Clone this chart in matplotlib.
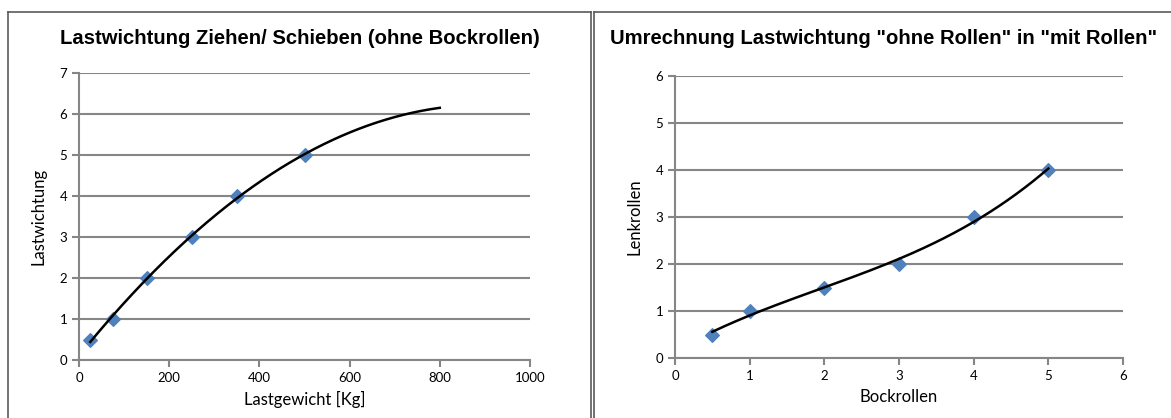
import numpy as np
import matplotlib
matplotlib.use("Agg")
import matplotlib.pyplot as plt
from matplotlib.lines import Line2D

# ---- data ----
left_x = [25, 75, 150, 250, 350, 500]
left_y = [0.5, 1, 2, 3, 4, 5]
left_trend_end = 800
right_x = [0.5, 1, 2, 3, 4, 5]
right_y = [0.5, 1, 1.5, 2, 3, 4]

left_title = "Lastwichtung Ziehen/ Schieben (ohne Bockrollen)"
right_title = 'Umrechnung Lastwichtung "ohne Rollen" in "mit Rollen"'

W, H = 1171, 418
fig = plt.figure(figsize=(W / 100, H / 100), dpi=100)
fig.patch.set_facecolor("white")

TICK_FONT = "Lato"
TITLE_FONT = "Liberation Sans"
GRID = "#868686"
MARK = "#4F81BD"

def px(x0, y0, x1, y1):
    return [x0 / W, 1 - y1 / H, (x1 - x0) / W, (y1 - y0) / H]

# panel borders
border = "#5a5a5a"
fig.add_artist(Line2D([8 / W, 8 / W], [1 - 12 / H, 0], color=border, lw=1.2))
fig.add_artist(Line2D([8 / W, 591 / W], [1 - 12 / H, 1 - 12 / H], color=border, lw=1.2))
fig.add_artist(Line2D([591 / W, 591 / W], [1 - 12 / H, 0], color=border, lw=1.2))
fig.add_artist(Line2D([594 / W, 594 / W], [1 - 12 / H, 0], color=border, lw=1.2))
fig.add_artist(Line2D([594 / W, 1], [1 - 12 / H, 1 - 12 / H], color=border, lw=1.2))


def style(ax, xmax, xstep, ymax):
    ax.set_xlim(0, xmax)
    ax.set_ylim(0, ymax)
    ax.set_xticks(np.arange(0, xmax + xstep / 2, xstep))
    ax.set_yticks(np.arange(0, ymax + 0.5, 1))
    ax.grid(axis="y", color=GRID, lw=1.5)
    ax.set_axisbelow(True)
    for s in ["top", "right"]:
        ax.spines[s].set_visible(False)
    for s in ["left", "bottom"]:
        ax.spines[s].set_color(GRID)
        ax.spines[s].set_linewidth(1.5)
    ax.tick_params(axis="both", colors=GRID, length=5, width=1.5, labelcolor="black",
                   labelsize=9.5)
    ax.tick_params(axis="x", pad=4)
    for lab in ax.get_xticklabels() + ax.get_yticklabels():
        lab.set_family(TICK_FONT)


# left chart
ax1 = fig.add_axes(px(79, 73, 530, 360))
style(ax1, 1000, 200, 7)
c1 = np.polyfit(left_x, left_y, 2)
xs = np.linspace(left_x[0], left_trend_end, 200)
ax1.plot(xs, np.polyval(c1, xs), color="black", lw=1.8, zorder=4)
ax1.scatter(left_x, left_y, marker="D", s=48, color=MARK, zorder=3, clip_on=False)
ax1.set_xlabel("Lastgewicht [Kg]", family=TICK_FONT, fontsize=12, labelpad=5)
ax1.set_ylabel("Lastwichtung", family=TICK_FONT, fontsize=12, labelpad=9)
fig.text(300 / W, 1 - 38 / H, left_title, ha="center", va="center",
         family=TITLE_FONT, fontweight="bold", fontsize=14.6)

# right chart
ax2 = fig.add_axes(px(675, 76, 1123, 358))
style(ax2, 6, 1, 6)
c2 = np.polyfit(right_x, right_y, 3)
xs2 = np.linspace(right_x[0], right_x[-1], 200)
ax2.plot(xs2, np.polyval(c2, xs2), color="black", lw=1.8, zorder=4)
ax2.scatter(right_x, right_y, marker="D", s=48, color=MARK, zorder=3, clip_on=False)
ax2.set_xlabel("Bockrollen", family=TICK_FONT, fontsize=12, labelpad=5)
ax2.set_ylabel("Lenkrollen", family=TICK_FONT, fontsize=12, labelpad=9)
fig.text(884 / W, 1 - 38 / H, right_title, ha="center", va="center",
         family=TITLE_FONT, fontweight="bold", fontsize=14.6)

fig.savefig("out.png", dpi=100, facecolor="white")
